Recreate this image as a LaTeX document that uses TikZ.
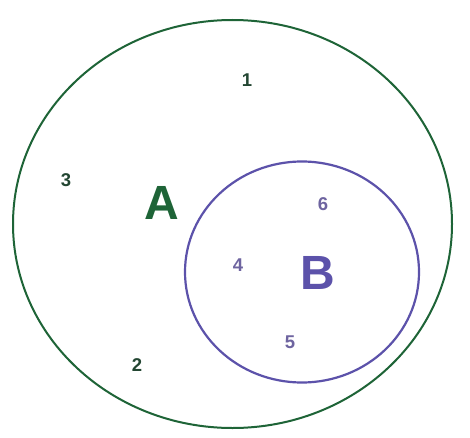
\documentclass[tikz,border=0pt]{standalone}
\usepackage{fontspec}
\setmainfont{Liberation Sans}
\definecolor{agreen}{RGB}{30,100,55}
\definecolor{bblue}{RGB}{92,82,170}
\definecolor{dgreen}{RGB}{35,70,50}
\definecolor{dblue}{RGB}{110,100,160}
\begin{document}
\begin{tikzpicture}[x=1pt,y=1pt,
  digit/.style={font=\fontsize{18.5}{18.5}\selectfont\bfseries,inner sep=0pt},
  setlabel/.style={font=\fontsize{48}{48}\selectfont\bfseries,inner sep=0pt}]
\useasboundingbox[fill=white] (0,0) rectangle (470,437);
\draw[agreen,line width=2pt] (232.5,213) ellipse [x radius=219.5, y radius=204];
\draw[bblue,line width=2.2pt] (302,165) ellipse [x radius=117, y radius=110.5];
\node[setlabel,text=agreen] (A) at (162,234) {A};
\node[setlabel,text=bblue] (B) at (318,164) {B};
\node[digit,text=dgreen] (n1) at (247,357) {1};
\node[digit,text=dgreen] (n3) at (66,257) {3};
\node[digit,text=dgreen] (n2) at (137,72) {2};
\node[digit,text=dblue] (n6) at (323,233) {6};
\node[digit,text=dblue] (n4) at (238,172) {4};
\node[digit,text=dblue] (n5) at (290,95) {5};
\end{tikzpicture}
\end{document}
